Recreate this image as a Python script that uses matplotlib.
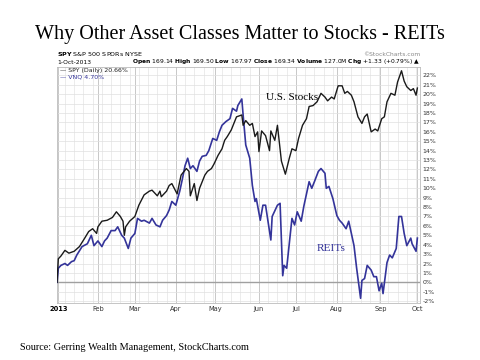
import matplotlib.pyplot as plt
import matplotlib.dates as mdates
import pandas as pd

# SPY (Daily) % change since start of 2013
spy_dates = ["2013-01-01", "2013-01-02", "2013-01-04", "2013-01-07", "2013-01-10", "2013-01-14",
             "2013-01-18", "2013-01-22", "2013-01-25", "2013-01-28", "2013-01-31", "2013-02-01",
             "2013-02-04", "2013-02-08", "2013-02-12", "2013-02-15", "2013-02-18", "2013-02-20",
             "2013-02-21", "2013-02-22", "2013-02-25", "2013-03-01", "2013-03-04", "2013-03-08",
             "2013-03-12", "2013-03-14", "2013-03-18", "2013-03-20", "2013-03-21", "2013-03-25",
             "2013-03-27", "2013-03-29", "2013-04-02", "2013-04-05", "2013-04-09", "2013-04-11",
             "2013-04-12", "2013-04-15", "2013-04-17", "2013-04-19", "2013-04-23", "2013-04-25",
             "2013-04-28", "2013-04-30", "2013-05-03", "2013-05-06", "2013-05-08", "2013-05-10",
             "2013-05-13", "2013-05-15", "2013-05-17", "2013-05-21", "2013-05-22", "2013-05-24",
             "2013-05-27", "2013-05-29", "2013-05-31", "2013-06-02", "2013-06-03", "2013-06-05",
             "2013-06-08", "2013-06-11", "2013-06-12", "2013-06-15", "2013-06-17", "2013-06-20",
             "2013-06-23", "2013-06-26", "2013-06-28", "2013-07-01", "2013-07-03", "2013-07-06",
             "2013-07-09", "2013-07-11", "2013-07-14", "2013-07-17", "2013-07-20", "2013-07-23",
             "2013-07-25", "2013-07-28", "2013-07-30", "2013-08-02", "2013-08-05", "2013-08-07",
             "2013-08-09", "2013-08-12", "2013-08-14", "2013-08-17", "2013-08-20", "2013-08-22",
             "2013-08-24", "2013-08-27", "2013-08-30", "2013-09-01", "2013-09-04", "2013-09-06",
             "2013-09-08", "2013-09-11", "2013-09-14", "2013-09-16", "2013-09-19", "2013-09-21",
             "2013-09-23", "2013-09-26", "2013-09-28", "2013-09-30", "2013-10-01"]
spy_pct = [0.0, 2.5, 2.8, 3.4, 3.1, 3.3,
           3.8, 4.7, 5.4, 5.7, 5.2, 5.9,
           6.5, 6.6, 6.9, 7.5, 7.0, 6.5,
           5.0, 5.9, 6.5, 7.0, 8.2, 9.3,
           9.7, 9.8, 9.2, 9.7, 9.1, 9.7,
           10.3, 10.5, 9.4, 11.4, 12.1, 11.8,
           9.2, 10.5, 8.7, 10.0, 11.4, 11.8,
           12.1, 12.6, 13.5, 14.2, 15.1, 15.5,
           16.2, 16.9, 17.6, 17.8, 16.7, 17.2,
           16.7, 16.9, 15.5, 16.0, 13.9, 16.1,
           15.6, 14.0, 16.1, 15.1, 16.7, 12.9,
           11.5, 13.2, 14.2, 14.0, 15.3, 16.7,
           17.4, 18.7, 18.8, 19.2, 20.1, 19.7,
           19.3, 19.7, 19.5, 20.9, 20.9, 20.1,
           20.3, 19.9, 19.2, 17.6, 16.9, 17.6,
           17.9, 16.0, 16.3, 16.1, 17.4, 17.6,
           19.2, 20.1, 19.9, 21.3, 22.5, 21.4,
           20.8, 20.4, 20.6, 19.9, 20.66]

# VNQ (REITs) % change since start of 2013
vnq_dates = ["2013-01-01", "2013-01-02", "2013-01-04", "2013-01-07", "2013-01-09", "2013-01-12",
             "2013-01-14", "2013-01-16", "2013-01-20", "2013-01-24", "2013-01-27", "2013-01-29",
             "2013-02-01", "2013-02-04", "2013-02-06", "2013-02-08", "2013-02-11", "2013-02-14",
             "2013-02-16", "2013-02-19", "2013-02-21", "2013-02-24", "2013-02-26", "2013-03-01",
             "2013-03-03", "2013-03-06", "2013-03-08", "2013-03-12", "2013-03-14", "2013-03-17",
             "2013-03-20", "2013-03-22", "2013-03-25", "2013-03-27", "2013-03-29", "2013-04-01",
             "2013-04-04", "2013-04-06", "2013-04-08", "2013-04-10", "2013-04-12", "2013-04-14",
             "2013-04-17", "2013-04-19", "2013-04-21", "2013-04-24", "2013-04-26", "2013-04-29",
             "2013-05-02", "2013-05-04", "2013-05-06", "2013-05-09", "2013-05-12", "2013-05-14",
             "2013-05-17", "2013-05-18", "2013-05-21", "2013-05-22", "2013-05-24", "2013-05-27",
             "2013-05-29", "2013-05-31", "2013-06-01", "2013-06-04", "2013-06-06", "2013-06-08",
             "2013-06-12", "2013-06-13", "2013-06-17", "2013-06-19", "2013-06-21", "2013-06-22",
             "2013-06-24", "2013-06-28", "2013-06-30", "2013-07-02", "2013-07-05", "2013-07-07",
             "2013-07-11", "2013-07-13", "2013-07-15", "2013-07-18", "2013-07-20", "2013-07-23",
             "2013-07-24", "2013-07-26", "2013-07-29", "2013-08-01", "2013-08-03", "2013-08-05",
             "2013-08-08", "2013-08-10", "2013-08-12", "2013-08-14", "2013-08-16", "2013-08-19",
             "2013-08-20", "2013-08-22", "2013-08-24", "2013-08-27", "2013-08-29", "2013-08-31",
             "2013-09-02", "2013-09-04", "2013-09-05", "2013-09-08", "2013-09-10", "2013-09-12",
             "2013-09-15", "2013-09-17", "2013-09-19", "2013-09-21", "2013-09-23", "2013-09-26",
             "2013-09-27", "2013-09-30", "2013-10-01"]
vnq_pct = [0.0, 1.5, 1.8, 2.0, 1.8, 2.2,
           2.3, 2.9, 3.8, 4.1, 5.0, 3.9,
           4.4, 3.8, 4.4, 4.7, 5.5, 5.5,
           5.9, 5.0, 4.7, 3.6, 4.7, 5.2,
           6.8, 6.5, 6.6, 6.3, 6.8, 6.1,
           5.9, 6.6, 7.1, 7.7, 8.6, 8.2,
           9.7, 11.0, 12.4, 13.2, 12.1, 12.4,
           11.8, 12.9, 13.4, 13.5, 14.0, 15.3,
           15.1, 16.0, 16.7, 17.1, 17.4, 18.5,
           18.2, 18.8, 19.5, 17.8, 14.6, 13.2,
           10.3, 8.6, 8.9, 6.6, 8.2, 8.2,
           4.5, 7.0, 8.2, 8.4, 0.7, 1.8,
           1.5, 6.8, 6.1, 7.5, 6.5, 8.1,
           10.7, 10.0, 10.7, 11.8, 12.1, 11.6,
           10.0, 10.2, 8.9, 7.1, 6.6, 6.3,
           5.7, 6.5, 5.2, 3.9, 1.5, -1.7,
           0.2, 0.4, 1.8, 1.3, 0.6, 0.6,
           -0.9, -0.1, -1.2, 2.1, 2.9, 2.6,
           3.6, 7.0, 7.0, 5.2, 3.9, 4.7,
           4.1, 3.3, 4.70]

y_ticks = list(range(-2, 23))
month_labels = ["2013", "Feb", "Mar", "Apr", "May", "Jun", "Jul", "Aug", "Sep", "Oct"]
month_starts = ["2013-01-02", "2013-02-01", "2013-03-01", "2013-04-01", "2013-05-01",
                "2013-06-03", "2013-07-01", "2013-08-01", "2013-09-03", "2013-10-01"]

blue = "#34349a"
serif = ["Liberation Serif", "DejaVu Serif"]

fig = plt.figure(figsize=(4.8, 3.6), dpi=100)
ax = fig.add_axes([57 / 480, 1 - 303 / 360, 363 / 480, 236 / 360])

ax.plot(pd.to_datetime(spy_dates), spy_pct, color="#1a1a1a", lw=1.0, zorder=4)
ax.plot(pd.to_datetime(vnq_dates), vnq_pct, color=blue, lw=1.2, zorder=3)

ax.set_xlim(pd.Timestamp("2013-01-01"), pd.Timestamp("2013-10-03"))
ax.set_ylim(-2.2, 22.9)

# grid
ax.set_yticks(y_ticks)
ax.set_yticklabels([f"{t}%" for t in y_ticks], fontsize=4.5, color="#333333")
ax.yaxis.tick_right()
ax.set_xticks(pd.to_datetime(month_starts))
ax.set_xticklabels(month_labels, fontsize=4.8, color="#333333")
ax.get_xticklabels()[0].set_fontweight("bold")
ax.get_xticklabels()[0].set_color("black")
ax.xaxis.set_minor_locator(mdates.WeekdayLocator(byweekday=mdates.MO))
ax.tick_params(axis="both", which="both", length=0, pad=2)
ax.grid(True, which="major", axis="x", color="#c8c8c8", lw=0.7)
ax.grid(True, which="minor", axis="x", color="#e4e4e4", lw=0.5)
ax.grid(True, which="major", axis="y", color="#e0e0e0", lw=0.5)
ax.axhline(0, color="#a0a0a0", lw=1.0, zorder=2)
for s in ax.spines.values():
    s.set_color("#bbbbbb")
    s.set_linewidth(0.6)

# legend text
ax.text(0.008, 0.995, "\u2014 SPY (Daily) 20.66%", transform=ax.transAxes, fontsize=4.5,
        color="#222222", va="top")
ax.text(0.008, 0.967, "\u2014 VNQ 4.70%", transform=ax.transAxes, fontsize=4.5,
        color=blue, va="top")

# annotations
ax.text(pd.Timestamp("2013-06-08"), 19.4, "U.S. Stocks", family=serif, fontsize=8)
ax.text(pd.Timestamp("2013-07-17"), 3.3, "REITs", family=serif, fontsize=8.2, color=blue)

# header
fig.text(0.5, 1 - 34 / 360, "Why Other Asset Classes Matter to Stocks - REITs",
         family=serif, fontsize=14.5, ha="center", va="center")
fig.text(57 / 480, 1 - 54 / 360, r"$\bf{SPY}$ S&P 500 SPDRs NYSE", fontsize=4.6, va="center")
fig.text(420 / 480, 1 - 54 / 360, "\u00a9StockCharts.com", fontsize=4.3, color="#888888",
         ha="right", va="center")
fig.text(57 / 480, 1 - 62 / 360, "1-Oct-2013", fontsize=4.3, va="center")
fig.text(420 / 480, 1 - 62 / 360,
         r"$\bf{Open}$ 169.14 $\bf{High}$ 169.50 $\bf{Low}$ 167.97 $\bf{Close}$ 169.34 "
         r"$\bf{Volume}$ 127.0M $\bf{Chg}$ +1.33 (+0.79%) " + "\u25b2",
         fontsize=4.3, ha="right", va="center")
fig.text(20 / 480, 1 - 348 / 360, "Source: Gerring Wealth Management, StockCharts.com",
         family=serif, fontsize=7.4, va="center")

fig.savefig("out.png", dpi=100)
